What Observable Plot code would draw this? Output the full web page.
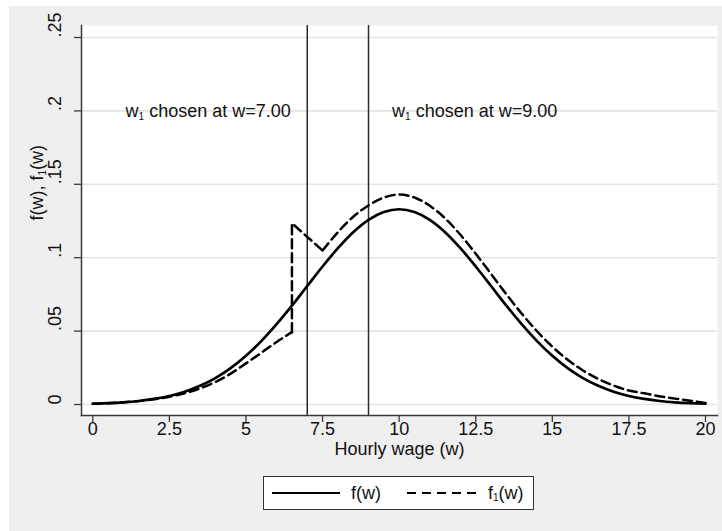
<!DOCTYPE html>
<html><head><meta charset="utf-8">
<script src="https://cdn.jsdelivr.net/npm/d3@7"></script>
<script src="https://cdn.jsdelivr.net/npm/@observablehq/plot@0.6"></script>
<style>
html,body{margin:0;padding:0;background:#fff;}
#wrap{position:relative;width:722px;height:531px;overflow:hidden;font-family:"Liberation Sans",Arial,Helvetica,sans-serif;}
#bg{position:absolute;left:9px;top:6px;right:0;bottom:0;background:#efefef;}
#chart{position:absolute;left:0;top:0;}
#legend{position:absolute;left:263px;top:476px;width:269px;height:32px;background:#fff;border:1px solid #333;font-size:18px;color:#111;}
#legend .item{position:absolute;top:0;height:32px;line-height:32px;}
#legend sub{font-size:10px;vertical-align:-2px;}
</style></head><body>
<div id="wrap"><div id="bg"></div><div id="chart"></div><div id="legend"></div></div>
<script>
// ---- data ----
const wage = [0,0.5,1,1.5,2,2.5,3,3.5,4,4.5,5,5.5,6,6.5,7,7.5,8,8.5,9,9.5,10,10.5,11,11.5,12,12.5,13,13.5,14,14.5,15,15.5,16,16.5,17,17.5,18,18.5,19,19.5,20];
const fW = [0.0005,0.0009,0.0015,0.0024,0.0038,0.0058,0.0087,0.0127,0.0180,0.0248,0.0332,0.0432,0.0547,0.0673,0.0807,0.0940,0.1065,0.1174,0.1258,0.1311,0.1330,0.1311,0.1258,0.1174,0.1065,0.0940,0.0807,0.0673,0.0547,0.0432,0.0332,0.0248,0.0180,0.0127,0.0087,0.0058,0.0038,0.0024,0.0015,0.0009,0.0005];

const f1LowW = [0,0.5,1,1.5,2,2.5,3,3.5,4,4.5,5,5.5,6,6.5];
const f1Low  = [0.0005,0.0009,0.0015,0.0023,0.0035,0.0053,0.0077,0.0110,0.0153,0.0210,0.0280,0.0352,0.0426,0.0493];
const f1JumpW = [6.5,6.5,7,7.5];
const f1Jump  = [0.0493,0.1235,0.1142,0.1049];
const f1HighW = [7.5,8,8.5,9,9.5,10,10.5,11,11.5,12,12.5,13,13.5,14,14.5,15,15.5,16,16.5,17,17.5,18,18.5,19,19.5,20];
const f1High  = [0.1049,0.1174,0.1279,0.1356,0.1410,0.1430,0.1410,0.1354,0.1268,0.1156,0.1027,0.0890,0.0751,0.0619,0.0499,0.0394,0.0305,0.0232,0.0174,0.0129,0.0095,0.0076,0.0056,0.0040,0.0026,0.0011];

const cutoffs = [7, 9];
const notes = ["w\u2081 chosen at w=7.00", "w\u2081 chosen at w=9.00"];
const noteX = [1.07, 9.77];
const noteY = [0.2, 0.2];

const xTicks = [0,2.5,5,7.5,10,12.5,15,17.5,20];
const xTickLabels = ["0","2.5","5","7.5","10","12.5","15","17.5","20"];
const yTicks = [0,0.05,0.1,0.15,0.2,0.25];
const yTickLabels = ["0",".05",".1",".15",".2",".25"];
const xTitle = "Hourly wage (w)";
const yTitle = "f(w), f\u2081(w)";
const legendLabels = ["f(w)", "f<sub>1</sub>(w)"];

// ---- build tables ----
const solid = wage.map((w, i) => ({w, v: fW[i]}));
const dashed = [
  ...f1LowW.map((w, i) => ({w, v: f1Low[i], seg: "a"})),
  ...f1HighW.map((w, i) => ({w, v: f1High[i], seg: "c"}))
];
const dashedJump = f1JumpW.map((w, i) => ({w, v: f1Jump[i]}));
const noteData = notes.map((t, i) => ({t, x: noteX[i], y: noteY[i]}));

const FONT = '"Liberation Sans", Arial, Helvetica, sans-serif';
const axisColor = "#3a3a3a";
const FS = 18;

const chart = Plot.plot({
  width: 722, height: 531,
  marginLeft: 81, marginRight: 5, marginTop: 25, marginBottom: 116,
  x: {domain: [0, 20], insetLeft: 11.3, insetRight: 12},
  y: {domain: [0, 0.25], insetTop: 12, insetBottom: 11},
  style: {background: "transparent", fontFamily: FONT, fontSize: FS + "px", color: "#111"},
  marks: [
    Plot.frame({fill: "white", stroke: null}),
    Plot.ruleY(yTicks, {stroke: "#e3e3e3", strokeWidth: 1.6}),
    Plot.ruleX(cutoffs, {stroke: "#2a2a2a", strokeWidth: 1.5}),
    Plot.line(solid, {x: "w", y: "v", stroke: "black", strokeWidth: 2.7, curve: "monotone-x"}),
    Plot.line(dashed, {x: "w", y: "v", z: "seg", stroke: "black", strokeWidth: 2.5, strokeDasharray: "9,5", curve: "monotone-x"}),
    Plot.line(dashedJump, {x: "w", y: "v", stroke: "black", strokeWidth: 2.5, strokeDasharray: "9,5", curve: "linear"}),
    Plot.text(noteData, {x: "x", y: "y", text: "t", textAnchor: "start", fontSize: FS, fill: "#111"}),
    Plot.frame({anchor: "left", stroke: axisColor, strokeWidth: 1.5}),
    Plot.frame({anchor: "bottom", stroke: axisColor, strokeWidth: 1.5}),
    Plot.axisX({ticks: xTicks, tickSize: 7, tickFormat: () => "", label: null, stroke: axisColor, strokeWidth: 1.3}),
    Plot.axisY({ticks: yTicks, tickSize: 7, tickFormat: () => "", label: null, stroke: axisColor, strokeWidth: 1.3}),
    Plot.text(xTicks, {x: d => d, text: (d, i) => xTickLabels[i], frameAnchor: "bottom", dy: 19, fontSize: FS, fill: "#111"}),
    Plot.text(yTicks, {y: d => d, text: (d, i) => yTickLabels[i], frameAnchor: "left", dx: -26, rotate: -90, fontSize: FS, fill: "#111"}),
    Plot.text([xTitle], {text: d => d, frameAnchor: "bottom", dy: 39, fontSize: FS, fill: "#111"}),
    Plot.text([yTitle], {text: d => d, frameAnchor: "left", dx: -44, rotate: -90, fontSize: FS, fill: "#111"})
  ]
});
document.getElementById("chart").appendChild(chart);

// render the "₁" as a small lowered subscript
chart.querySelectorAll("text").forEach(t => {
  const s = t.textContent;
  if (!s.includes("\u2081")) return;
  const [a, b] = s.split("\u2081");
  t.textContent = "";
  const ns = "http://www.w3.org/2000/svg";
  const t1 = document.createElementNS(ns, "tspan"); t1.textContent = a;
  const t2 = document.createElementNS(ns, "tspan"); t2.textContent = "1";
  t2.setAttribute("font-size", "10"); t2.setAttribute("dy", "3");
  const t3 = document.createElementNS(ns, "tspan"); t3.textContent = b; t3.setAttribute("dy", "-3");
  t.append(t1, t2, t3);
});

// legend
const lg = document.getElementById("legend");
lg.innerHTML = `
  <svg class="item" style="left:8px" width="70" height="32"><line x1="0" x2="68" y1="16" y2="16" stroke="black" stroke-width="2"/></svg>
  <div class="item" style="left:87px">${legendLabels[0]}</div>
  <svg class="item" style="left:143px" width="72" height="32"><line x1="0" x2="70" y1="16" y2="16" stroke="black" stroke-width="2" stroke-dasharray="9,6"/></svg>
  <div class="item" style="left:224px">${legendLabels[1]}</div>`;
</script>
</body></html>
